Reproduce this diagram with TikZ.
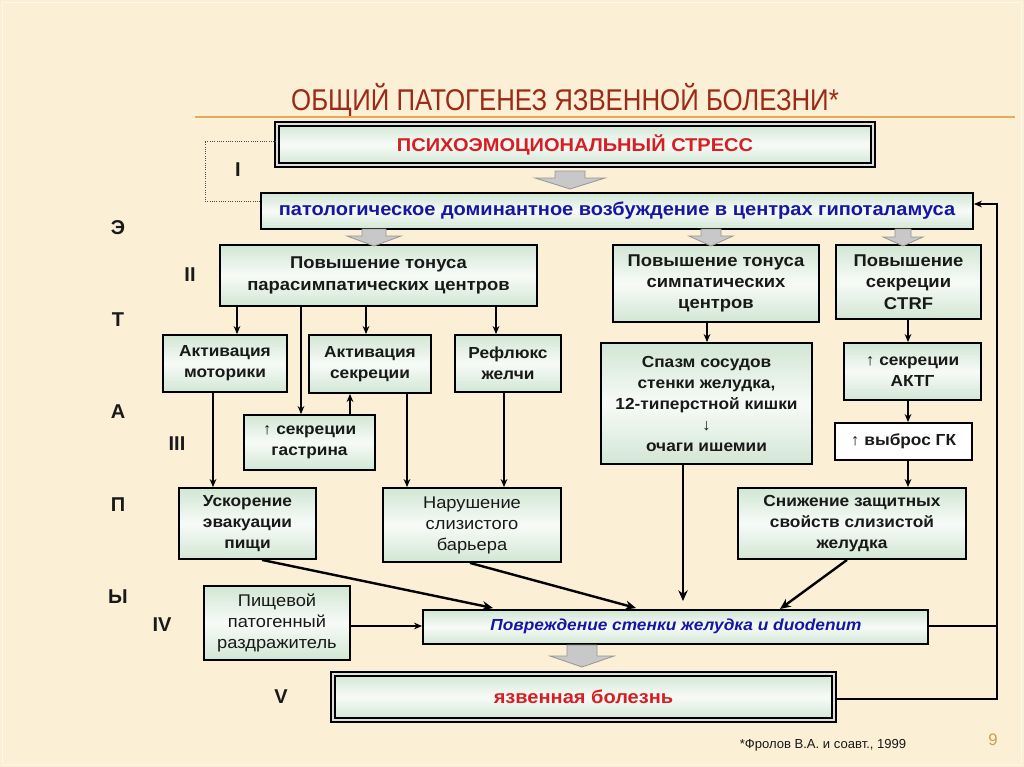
\documentclass[tikz,border=0pt]{standalone}
\usepackage{fontspec}
\setmainfont{Liberation Sans}
\newfontfamily\titlefont[FakeStretch=0.86]{Liberation Sans}
\newfontfamily\bodyfont[FakeStretch=1.08]{Liberation Sans}
\usetikzlibrary{arrows.meta,calc}
\definecolor{bg}{RGB}{251,239,213}
\definecolor{mintA}{RGB}{210,230,212}
\definecolor{mintB}{RGB}{247,251,247}
\definecolor{txt}{RGB}{25,25,25}
\definecolor{blu}{RGB}{22,22,165}
\definecolor{redt}{RGB}{215,30,35}
\definecolor{titc}{RGB}{155,42,22}
\definecolor{linec}{RGB}{226,172,92}
\definecolor{garfill}{RGB}{200,200,200}
\definecolor{garline}{RGB}{150,150,150}
\definecolor{pnum}{RGB}{200,160,80}
\tikzset{
  boxbase/.style={draw=black, line width=1.4pt, inner sep=0pt, align=center, text=txt,
    font=\bodyfont\bfseries\fontsize{12}{15.75}\selectfont},
  box/.style={boxbase, shading=axis, top color=mintA, bottom color=mintA, middle color=mintB},
  bigbox/.style={box, font=\bodyfont\bfseries\fontsize{12.8}{16}\selectfont},
  headbox/.style={box, font=\bodyfont\bfseries\fontsize{13.9}{16}\selectfont},
  lightbox/.style={box, font=\bodyfont\fontsize{12.7}{15.75}\selectfont},
  whitebox/.style={boxbase, fill=white},
  dbox/.style={headbox, line width=0.9pt, double=white!75!gray, double distance=2.2pt},
  arr/.style={line width=0.9pt, -{Stealth[length=6pt,width=5pt]}},
  thickarr/.style={line width=1.8pt, -{Stealth[length=8pt,width=7pt]}},
  fb/.style={line width=0.8pt},
  garr/.style={fill=garfill, draw=garline, line width=0.6pt},
  stage/.style={font=\bfseries\fontsize{15}{15}\selectfont, text=txt},
}
\newcommand\mkbox[7][box]{\node[#1, minimum width={(#5-#3)*0.75pt}, minimum height={(#6-#4)*0.75pt}] (#2) at ({(#3+#5)/2},{(#4+#6)/2}) {#7};}
\newcommand\garrow[6]{\filldraw[garr] ({#1-#5},{#2}) -- ({#1+#5},{#2}) -- ({#1+#5},{#3}) -- ({#1+#6},{#3}) -- (#1,{#4}) -- ({#1-#6},{#3}) -- ({#1-#5},{#3}) -- cycle;}
\begin{document}
\begin{tikzpicture}[x=0.75pt,y=-0.75pt]
\fill[bg] (0,0) rectangle (1024,767);
\draw[white!55!bg, line width=1pt] (2.5,2.5) rectangle (1021.5,764.5);
\useasboundingbox (0,0) rectangle (1024,767);

% title
\node[text=titc, font=\titlefont\fontsize{22.5}{22.5}\selectfont] (title) at (565,100) {ОБЩИЙ ПАТОГЕНЕЗ ЯЗВЕННОЙ БОЛЕЗНИ*};
\draw[linec, line width=1.8pt] (195,117) -- (1015,117);

% boxes
\mkbox[dbox]{stress}{277}{124}{873}{165}{\textcolor{redt}{ПСИХОЭМОЦИОНАЛЬНЫЙ СТРЕСС}}
\mkbox[headbox]{hypo}{261}{193}{973}{229}{\textcolor{blu}{патологическое доминантное возбуждение в центрах гипоталамуса}}
\mkbox[bigbox]{para}{220}{245}{537}{306}{Повышение тонуса\\парасимпатических центров}
\mkbox[bigbox]{symp}{613}{245}{819}{322}{Повышение тонуса\\симпатических\\центров}
\mkbox[bigbox]{ctrf}{836}{245}{981}{319}{Повышение\\секреции\\CTRF}
\mkbox{motor}{163}{335}{287}{392}{Активация\\моторики}
\mkbox{secr}{309}{335}{431}{393}{Активация\\секреции}
\mkbox{reflux}{455}{335}{561}{392}{Рефлюкс\\желчи}
\mkbox{gastrin}{244}{415}{375}{470}{↑ секреции\\гастрина}
\mkbox{spasm}{601}{343}{812}{464}{Спазм сосудов\\стенки желудка,\\12-типерстной кишки\\{\mdseries ↓}\\очаги ишемии}
\mkbox{acth}{844}{343}{981}{400}{↑ секреции\\АКТГ}
\mkbox[whitebox]{gk}{835}{423}{972}{460}{↑ выброс ГК}
\mkbox{evac}{179}{488}{316}{559}{Ускорение\\эвакуации\\пищи}
\mkbox[lightbox]{barrier}{383}{488}{561}{562}{Нарушение\\слизистого\\барьера}
\mkbox{decr}{738}{488}{966}{559}{Снижение защитных\\свойств слизистой\\желудка}
\mkbox[lightbox]{food}{204}{586}{350}{660}{Пищевой\\патогенный\\раздражитель}
\mkbox{damage}{423}{610}{928}{644}{}
\node[text=blu, font=\bodyfont\bfseries\itshape\fontsize{12}{15}\selectfont] (damagetxt) at (676,626) {Повреждение стенки желудка и duodenum};
\mkbox[dbox]{disease}{333}{674}{834}{720}{\textcolor{redt}{язвенная болезнь}}

% dotted bracket for stage I
\draw[densely dotted, line width=0.7pt, black!70] (stress.west |- 0,141) -- (205,141) -- (205,201) -- (hypo.west |- 0,201);

% block arrows
\garrow{570}{171}{178}{189}{15}{35}
\garrow{374}{229}{236}{246}{12}{27}
\garrow{711}{229}{236}{246}{10}{22}
\garrow{903}{229}{237}{246}{8}{20}
\garrow{582}{645}{656}{667}{15}{32}

% connectors
\draw[arr] (237,0 |- para.south) -- (237,0 |- motor.north);
\draw[arr] (301,0 |- para.south) -- (301,0 |- gastrin.north);
\draw[arr] (350,0 |- gastrin.north) -- (350,0 |- secr.south);
\draw[arr] (366,0 |- para.south) -- (366,0 |- secr.north);
\draw[arr] (496,0 |- para.south) -- (496,0 |- reflux.north);
\draw[arr] (213,0 |- motor.south) -- (213,0 |- evac.north);
\draw[arr] (407,0 |- secr.south) -- (407,0 |- barrier.north);
\draw[arr] (504,0 |- reflux.south) -- (504,0 |- barrier.north);
\draw[arr] (707,0 |- symp.south) -- (707,0 |- spasm.north);
\draw[arr] (908,0 |- ctrf.south) -- (908,0 |- acth.north);
\draw[arr] (908,0 |- acth.south) -- (908,0 |- gk.north);
\draw[arr] (908,0 |- gk.south) -- (908,0 |- decr.north);
\draw[thickarr] (683,0 |- spasm.south) -- (683,601);
\draw[thickarr] (262,0 |- evac.south) -- (493,608);
\draw[thickarr] (470,0 |- barrier.south) -- (636,608);
\draw[thickarr] (847,0 |- decr.south) -- (780,609);
\draw[arr] (food.east |- 0,626) -- (damage.west |- 0,626);

% feedback
\coordinate (fbtop) at (997,204);
\coordinate (fbbot) at (997,699);
\draw[fb] (damage.east |- 0,626) -- (997,626);
\draw[fb, -{Stealth[length=6pt,width=5pt]}] (disease.east |- fbbot) -- (fbbot) -- (fbtop) -- (hypo.east |- fbtop);

% stage labels
\node[stage] (lE) at (118,228) {Э};
\node[stage] (lT) at (118,320) {Т};
\node[stage] (lA) at (118,412) {А};
\node[stage] (lP) at (118,505) {П};
\node[stage] (lY) at (118,597) {Ы};
\node[stage] (s1) at (238,170) {I};
\node[stage] (s2) at (190,275) {II};
\node[stage] (s3) at (177,444) {III};
\node[stage] (s4) at (162,625) {IV};
\node[stage] (s5) at (281,697) {V};

% footnote
\node[text=txt, font=\fontsize{9.8}{10}\selectfont] (foot) at (823,745) {*Фролов В.А. и соавт., 1999};
\node[text=pnum, font=\fontsize{12.5}{12}\selectfont] (pg) at (993,740) {9};
\end{tikzpicture}
\end{document}
